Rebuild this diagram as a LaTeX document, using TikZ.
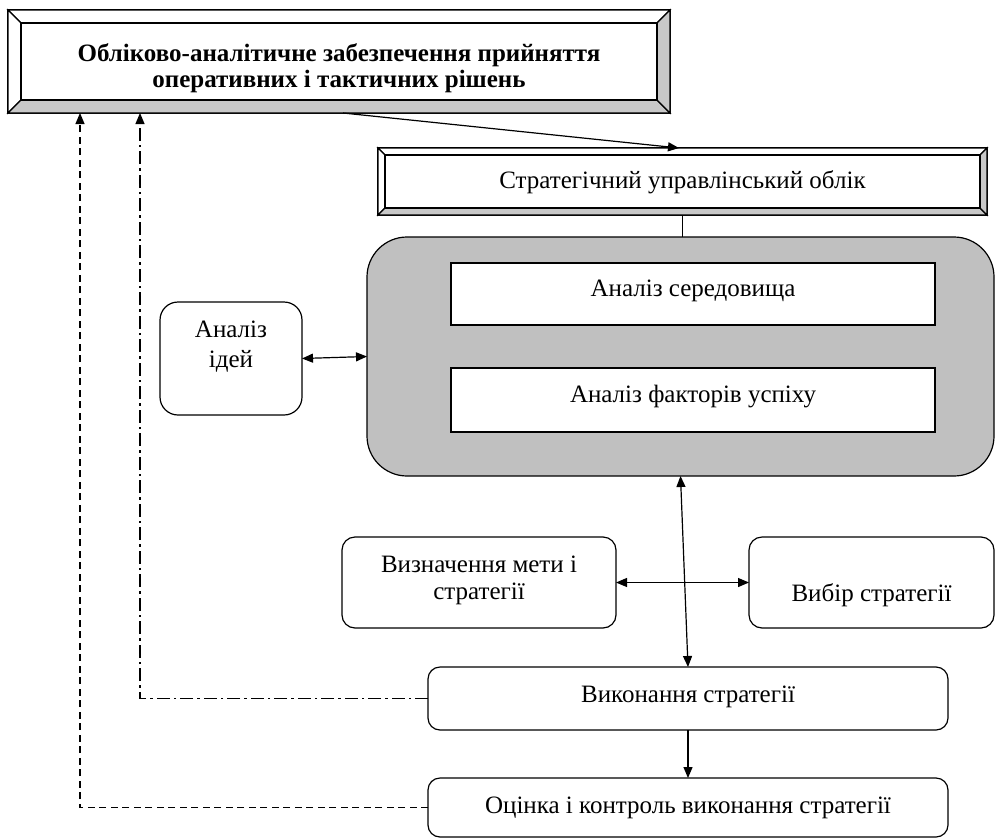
\documentclass[tikz,border=0pt]{standalone}
\usepackage{fontspec}
\setmainfont{Liberation Serif}
\usetikzlibrary{arrows.meta}
\definecolor{silver}{HTML}{C0C0C0}
\definecolor{bevelgray}{HTML}{C8C8C8}
\begin{document}
\begin{tikzpicture}[x=1pt,y=-1pt,
  every node/.style={inner sep=0pt, outer sep=0pt},
  frame/.style={draw=black, line width=1.2pt},
  plain/.style={frame, fill=white, font=\fontsize{25}{30}\selectfont},
  rbox/.style={plain, rounded corners=13pt},
  txt/.style={font=\fontsize{25}{30}\selectfont, align=center},
  conn/.style={line width=1.2pt},
  tip/.style={-{Triangle[length=11pt,width=9pt]}},
  dtip/.style={{Triangle[length=11pt,width=9pt]}-{Triangle[length=11pt,width=9pt]}},
  dashline/.style={dash pattern=on 7pt off 4.5pt},
  dashdotline/.style={dash pattern=on 13pt off 4pt on 2.5pt off 4pt},
]
\useasboundingbox (0,0) rectangle (995,838);
\clip (0,0) rectangle (995,838);

% ---- title beveled box
\node[frame, fill=white, minimum width=662pt, minimum height=103pt, anchor=north west] (titleframe) at (8,10) {};
\filldraw[fill=white, frame] (8,10) -- (670,10) -- (657,23) -- (21,23) -- cycle;
\filldraw[fill=white, frame] (8,10) -- (21,23) -- (21,100) -- (8,113) -- cycle;
\filldraw[fill=bevelgray, frame] (8,113) -- (21,100) -- (657,100) -- (670,113) -- cycle;
\filldraw[fill=bevelgray, frame] (670,10) -- (657,23) -- (657,100) -- (670,113) -- cycle;
\node[frame, fill=white, minimum width=636pt, minimum height=77pt, anchor=north west] (titleinner) at (21,23) {};
\node[txt, font=\fontsize{25}{26}\selectfont\bfseries] (title) at (339,68.5)
  {Обліково-аналітичне забезпечення прийняття\\оперативних і тактичних рішень};

% ---- strategic accounting beveled box
\node[frame, fill=white, minimum width=609pt, minimum height=67pt, anchor=north west] (stratframe) at (378,148) {};
\filldraw[fill=white, frame] (378,148) -- (987,148) -- (980,155) -- (385,155) -- cycle;
\filldraw[fill=white, frame] (378,148) -- (385,155) -- (385,208) -- (378,215) -- cycle;
\filldraw[fill=bevelgray, frame] (378,215) -- (385,208) -- (980,208) -- (987,215) -- cycle;
\filldraw[fill=bevelgray, frame] (987,148) -- (980,155) -- (980,208) -- (987,215) -- cycle;
\node[plain, minimum width=595pt, text height=33pt, text depth=20pt, anchor=north west] (strat) at (385,155)
  {Стратегічний управлінський облік};

% ---- grey analysis block
\node[frame, fill=silver, rounded corners=40pt, minimum width=627pt, minimum height=239pt, anchor=north west] (env) at (367,237) {};
\node[plain, minimum width=484pt, text height=33pt, text depth=29pt, anchor=north west] (sered) at (451,263)
  {Аналіз середовища};
\node[plain, minimum width=484pt, text height=34pt, text depth=30pt, anchor=north west] (factors) at (451,368)
  {Аналіз факторів успіху};

% ---- side and lower boxes
\node[rbox, rounded corners=18pt, minimum width=142pt, minimum height=113pt, anchor=north west] (ideas) at (160,302) {};
\node[txt] (ideastxt) at (231,347) {Аналіз\\ідей};

\node[rbox, minimum width=274pt, minimum height=91pt, anchor=north west] (goal) at (342,537) {};
\node[txt, font=\fontsize{25}{27}\selectfont] (goaltxt) at (479,580.5) {Визначення мети і\\стратегії};

\node[rbox, minimum width=245pt, text height=64pt, text depth=27pt, anchor=north west] (choice) at (749,537)
  {Вибір стратегії};

\node[rbox, rounded corners=12pt, minimum width=520pt, text height=35pt, text depth=28pt, anchor=north west] (exec) at (428,667)
  {Виконання стратегії};
\node[rbox, rounded corners=12pt, minimum width=520pt, text height=35pt, text depth=24pt, anchor=north west] (eval) at (428,778)
  {Оцінка і контроль виконання стратегії};

% ---- connector end points
\coordinate (fbA) at (140,113);
\coordinate (fbB) at (80,113);
\coordinate (diagS) at (343,113);
\coordinate (diagE) at (679,148);

% ---- connectors
\draw[conn, tip] (diagS) -- (diagE);
\draw[conn] (stratframe.south) -- (env.north -| stratframe.south);
\draw[conn, dtip] (ideas.east) -- (env.west);
\draw[conn, dtip] (env.south) -- (exec.north);
\draw[conn, dtip] (goal.east) -- (choice.west);
\draw[conn, tip] (exec.south) -- (eval.north);
\draw[conn, dashdotline, tip] (exec.west) -| (fbA);
\draw[conn, dashline, tip] (eval.west) -| (fbB);
\end{tikzpicture}
\end{document}
